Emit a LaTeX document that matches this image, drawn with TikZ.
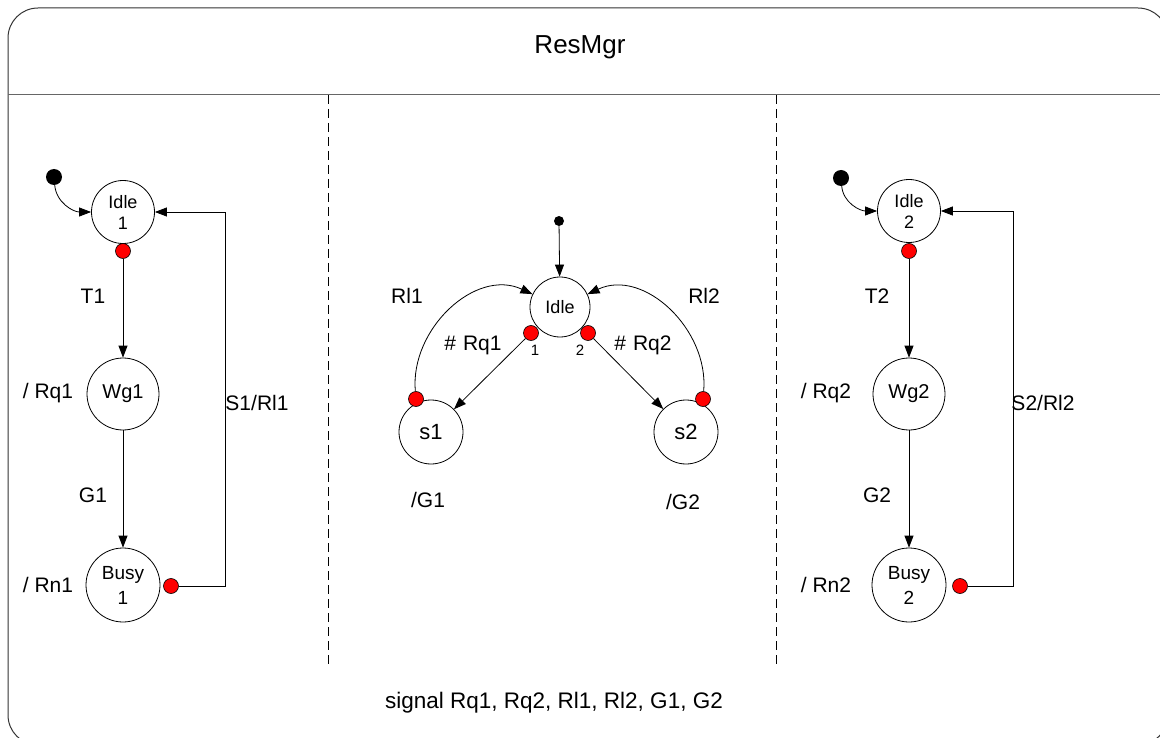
\documentclass[tikz,border=0pt]{standalone}
\usepackage{fontspec}
\setmainfont{Liberation Sans}
\usetikzlibrary{arrows.meta}
\begin{document}
\begin{tikzpicture}[x=1pt,y=1pt,
  st/.style={circle,draw,line width=0.8pt,inner sep=0pt,align=center},
  rd/.style={circle,draw,fill=red,minimum size=15pt,inner sep=0pt,line width=0.6pt},
  bd/.style={circle,fill=black,minimum size=16pt,inner sep=0pt},
  arr/.style={-{Triangle[length=12pt,width=9pt]},line width=0.8pt},
  lbl/.style={font=\fontsize{21}{24}\selectfont,inner sep=0pt},
  sml/.style={font=\fontsize{15}{18}\selectfont,inner sep=0pt},
  sep/.style={line width=0.8pt,dash pattern=on 9pt off 5pt}]
\useasboundingbox (0,0) rectangle (1160,-738);
\begin{scope}
\clip (0,0) rectangle (1160,-738);
\draw[line width=1pt,black!80,rounded corners=30pt] (8,-8) rectangle (1168,-745);
\draw[line width=1pt,black!60] (8,-95) -- (1160,-95);
\end{scope}
\draw[sep] (328,-95) -- (328,-665);
\draw[sep] (776,-95) -- (776,-665);
\node[font=\fontsize{26}{30}\selectfont] (title) at (580,-47) {ResMgr};
\node[font=\fontsize{22.5}{26}\selectfont] (sig) at (554,-703) {signal Rq1, Rq2, Rl1, Rl2, G1, G2};
% left column
\node[st,minimum size=63pt,font=\fontsize{18}{21}\selectfont] (idleA) at (123,-212) {Idle\\1};
\node[rd] (rdA1) at (123,-251) {};
\node[bd] (initA) at (54,-177) {};
\node[st,minimum size=72pt,font=\fontsize{20}{22}\selectfont] (wgA) at (123,-394) {Wg1};
\node[st,minimum size=74pt,font=\fontsize{19}{25}\selectfont] (busyA) at (123,-585) {Busy\\1};
\node[rd] (rdA2) at (171,-586) {};
\coordinate (turnA) at (225,-586);
\draw[arr] (initA) to[out=-85,in=180] (idleA);
\draw[arr] (rdA1) -- (wgA);
\draw[arr] (wgA) -- (busyA);
\draw[arr] (rdA2) -- (turnA) |- (idleA);
\node[lbl] (tA) at (93,-296) {T1};
\node[lbl] (rqA) at (48,-393) {/ Rq1};
\node[lbl] (srA) at (257,-403) {S1/Rl1};
\node[lbl] (gA) at (93,-495) {G1};
\node[lbl] (rnA) at (48,-585) {/ Rn1};
% right column
\node[st,minimum size=63pt,font=\fontsize{18}{21}\selectfont] (idleB) at (909,-211) {Idle\\2};
\node[rd] (rdB1) at (909,-251) {};
\node[bd] (initB) at (841,-178) {};
\node[st,minimum size=72pt,font=\fontsize{20}{22}\selectfont] (wgB) at (909,-394) {Wg2};
\node[st,minimum size=74pt,font=\fontsize{19}{25}\selectfont] (busyB) at (909,-585) {Busy\\2};
\node[rd] (rdB2) at (960,-586) {};
\coordinate (turnB) at (1013,-586);
\draw[arr] (initB) to[out=-85,in=180] (idleB);
\draw[arr] (rdB1) -- (wgB);
\draw[arr] (wgB) -- (busyB);
\draw[arr] (rdB2) -- (turnB) |- (idleB);
\node[lbl] (tB) at (877,-296) {T2};
\node[lbl] (rqB) at (826,-393) {/ Rq2};
\node[lbl] (srB) at (1043,-403) {S2/Rl2};
\node[lbl] (gB) at (877,-495) {G2};
\node[lbl] (rnB) at (826,-585) {/ Rn2};
% centre
\node[bd,minimum size=10pt] (initC) at (559,-221) {};
\node[st,minimum size=60pt,font=\fontsize{18}{21}\selectfont] (idleC) at (560,-307) {Idle};
\node[rd] (rdC1) at (531,-333) {};
\node[rd] (rdC2) at (588,-333) {};
\node[st,minimum size=64pt,font=\fontsize{22}{24}\selectfont] (s1) at (431,-432) {s1};
\node[st,minimum size=64pt,font=\fontsize{22}{24}\selectfont] (s2) at (686,-432) {s2};
\node[rd] (rdS1) at (416,-399) {};
\node[rd] (rdS2) at (703,-399) {};
\draw[arr] (initC) -- (idleC);
\draw[arr] (rdC1) -- (s1);
\draw[arr] (rdC2) -- (s2);
\draw[arr] (rdS1) to[out=95,in=155,looseness=1.05] (idleC);
\draw[arr] (rdS2) to[out=85,in=25,looseness=1.05] (idleC);
\node[lbl] (rlC1) at (407,-296) {Rl1};
\node[lbl] (rlC2) at (704,-296) {Rl2};
\node[lbl] (rqC1) at (473,-345) {\#\,\,Rq1};
\node[lbl] (rqC2) at (643,-345) {\#\,\,Rq2};
\node[sml] (oneC) at (535,-350) {1};
\node[sml] (twoC) at (580,-350) {2};
\node[lbl] (gC1) at (428,-500) {/G1};
\node[lbl] (gC2) at (683,-502) {/G2};
\end{tikzpicture}
\end{document}
